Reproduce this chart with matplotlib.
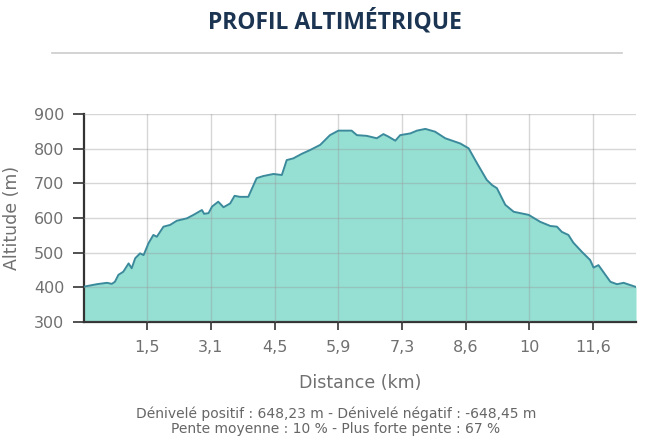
import matplotlib
matplotlib.use("Agg")
import matplotlib.pyplot as plt
import numpy as np

# Profile data (distance in km, altitude in m)
distance = [0.07, 0.36, 0.59, 0.70, 0.77, 0.85, 0.96, 1.08, 1.15, 1.23, 1.34, 1.42,
            1.53, 1.64, 1.72, 1.87, 2.02, 2.17, 2.40, 2.55, 2.74, 2.79, 2.89, 2.97,
            3.11, 3.23, 3.38, 3.48, 3.60, 3.79, 3.98, 4.13, 4.36, 4.55, 4.66, 4.81,
            5.00, 5.19, 5.42, 5.53, 5.64, 5.83, 6.13, 6.25, 6.47, 6.70, 6.85, 6.96,
            7.12, 7.23, 7.46, 7.61, 7.80, 8.02, 8.25, 8.59, 8.78, 8.97, 9.19, 9.31,
            9.42, 9.61, 9.80, 9.95, 10.14, 10.40, 10.63, 10.78, 10.89, 11.04, 11.15,
            11.34, 11.53, 11.61, 11.72, 11.99, 12.14, 12.29, 12.57]
altitude = [402, 409, 413, 410, 416, 436, 445, 469, 455, 484, 498, 493,
            527, 551, 546, 575, 580, 592, 599, 609, 623, 612, 614, 633,
            647, 631, 642, 664, 661, 661, 715, 721, 727, 724, 767, 772,
            785, 796, 811, 825, 839, 852, 852, 839, 837, 830, 842, 835,
            823, 839, 844, 852, 857, 849, 830, 815, 801, 758, 710, 695,
            686, 638, 618, 614, 609, 589, 577, 575, 560, 551, 529,
            503, 479, 457, 464, 416, 409, 413, 401]

tick_pos = np.linspace(1.5, 11.6, 8)
tick_labels = ["1,5", "3,1", "4,5", "5,9", "7,3", "8,6", "10", "11,6"]

title = "PROFIL ALTIMÉTRIQUE"
footer1 = "Dénivelé positif : 648,23 m - Dénivelé négatif : -648,45 m"
footer2 = "Pente moyenne : 10 % - Plus forte pente : 67 %"

fig = plt.figure(figsize=(6.5, 4.45), dpi=100)
ax = fig.add_axes([84 / 650, 1 - 322 / 445, (636 - 84) / 650, (322 - 114) / 445])

ax.fill_between(distance, altitude, 300, color="#95e0d3", zorder=1, linewidth=0)
ax.plot(distance, altitude, color="#3b8a9c", linewidth=1.4, zorder=3)

ax.set_xlim(0.07, 12.57)
ax.set_ylim(300, 900)
ax.set_yticks(range(300, 901, 100))
ax.set_xticks(tick_pos)
ax.set_xticklabels(tick_labels)

ax.grid(True, color="#9a9a9a", alpha=0.4, linewidth=1, zorder=2)
ax.set_axisbelow(False)
for s in ["top", "right"]:
    ax.spines[s].set_visible(False)
ax.spines["left"].set_color("#333333")
ax.spines["left"].set_linewidth(1.6)
ax.spines["bottom"].set_color("#333333")
ax.spines["bottom"].set_linewidth(1.6)
ax.tick_params(axis="y", length=8, width=1.2, color="#333333", labelcolor="#707070",
               labelsize=11.5, pad=6)
ax.tick_params(axis="x", length=6, width=1.2, color="#333333", labelcolor="#707070",
               labelsize=11.5, pad=7)

ax.set_ylabel("Altitude (m)", color="#707070", fontsize=12.5)
ax.set_xlabel("Distance (km)", color="#707070", fontsize=12.5)
ax.yaxis.set_label_coords((12 - 84) / 552, 0.5)
ax.yaxis.label.set_va("center")
ax.xaxis.set_label_coords((360 - 84) / 552, (322 - 383) / 208)
ax.xaxis.label.set_va("center")

fig.text(335 / 650, 1 - 22 / 445, title, ha="center", va="center", fontsize=16.5,
         fontweight="bold", color="#1b3452", family="Open Sans")
fig.add_artist(plt.Line2D([52 / 650, 622 / 650], [1 - 53 / 445, 1 - 53 / 445],
                          color="#cccccc", linewidth=1.2))
fig.text(336 / 650, 1 - 414 / 445, footer1, ha="center", va="center", fontsize=10,
         color="#666666")
fig.text(336 / 650, 1 - 429 / 445, footer2, ha="center", va="center", fontsize=10,
         color="#666666")

fig.savefig("out.png", dpi=100)
